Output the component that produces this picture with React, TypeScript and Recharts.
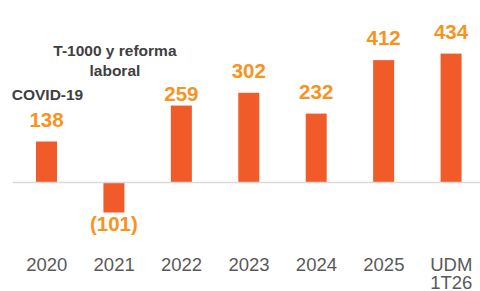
import React from 'react';
import { BarChart, Bar, XAxis, YAxis, ReferenceLine } from 'recharts';

const categories = ['2020', '2021', '2022', '2023', '2024', '2025', 'UDM 1T26'];
const values = [138, -101, 259, 302, 232, 412, 434];
const notes = ['COVID-19', 'T-1000 y reforma|laboral', '', '', '', '', ''];

const data = categories.map((cat, i) => ({ cat, value: values[i], note: notes[i] }));

const FONT = '"Liberation Sans", Arial, sans-serif';
const BAR_COLOR = '#F15A29';
const LABEL_COLOR = '#F7931E';
const NOTE_COLOR = '#404040';
const TICK_COLOR = '#595959';

function BarWithLabels(props: any) {
  const { x, y, width, height, payload } = props;
  const zero = y + height;
  const top = Math.min(y, zero);
  const h = Math.abs(height);
  const cx = x + width / 2;
  const v: number = payload.value;
  const text = v < 0 ? `(${Math.abs(v)})` : String(v);
  // the 2022 label sits tighter on its bar in the original
  const gap = payload.cat === '2022' ? 4.5 : 15;
  const labelY = v < 0 ? zero + h + 18.5 : top - gap;
  const noteLines: string[] = payload.note ? payload.note.split('|') : [];
  const noteBase = noteLines.length > 1 ? zero - 126.5 : zero - 82.5;
  return (
    <g>
      <rect x={x} y={top} width={width} height={h} fill={BAR_COLOR} />
      <text
        x={cx}
        y={labelY}
        textAnchor="middle"
        fontFamily={FONT}
        fontWeight="bold"
        fontSize={20.5}
        fill={LABEL_COLOR}
      >
        {text}
      </text>
      {noteLines.map((line, i) => (
        <text
          key={i}
          x={cx + 1}
          y={noteBase + i * 20}
          textAnchor="middle"
          fontFamily={FONT}
          fontWeight="bold"
          fontSize={15.5}
          fill={NOTE_COLOR}
        >
          {line}
        </text>
      ))}
    </g>
  );
}

function CategoryTick(props: any) {
  const { x, y, payload } = props;
  const lines = String(payload.value).split(' ');
  return (
    <g>
      {lines.map((line, i) => (
        <text
          key={i}
          x={x}
          y={y + 29.5 + i * 18}
          textAnchor="middle"
          fontFamily={FONT}
          fontSize={18.5}
          fill={TICK_COLOR}
        >
          {line}
        </text>
      ))}
    </g>
  );
}

export default function App() {
  return (
    <div
      style={{
        position: 'absolute',
        left: 0,
        top: 0,
        width: 480,
        height: 291,
        overflow: 'hidden',
        background: '#fff',
      }}
    >
      <BarChart
        width={485}
        height={291}
        data={data}
        margin={{ top: 48.85, right: 0, bottom: 9.1, left: 13 }}
        barCategoryGap={0}
      >
        <XAxis
          dataKey="cat"
          axisLine={false}
          tickLine={false}
          tickSize={0}
          tickMargin={0}
          height={40}
          interval={0}
          tick={<CategoryTick />}
        />
        <YAxis hide domain={[-200, 450]} />
        <ReferenceLine y={0} stroke="#D9D9D9" strokeWidth={1.5} />
        <Bar
          dataKey="value"
          barSize={21}
          fill={BAR_COLOR}
          shape={<BarWithLabels />}
          isAnimationActive={false}
        />
      </BarChart>
    </div>
  );
}
